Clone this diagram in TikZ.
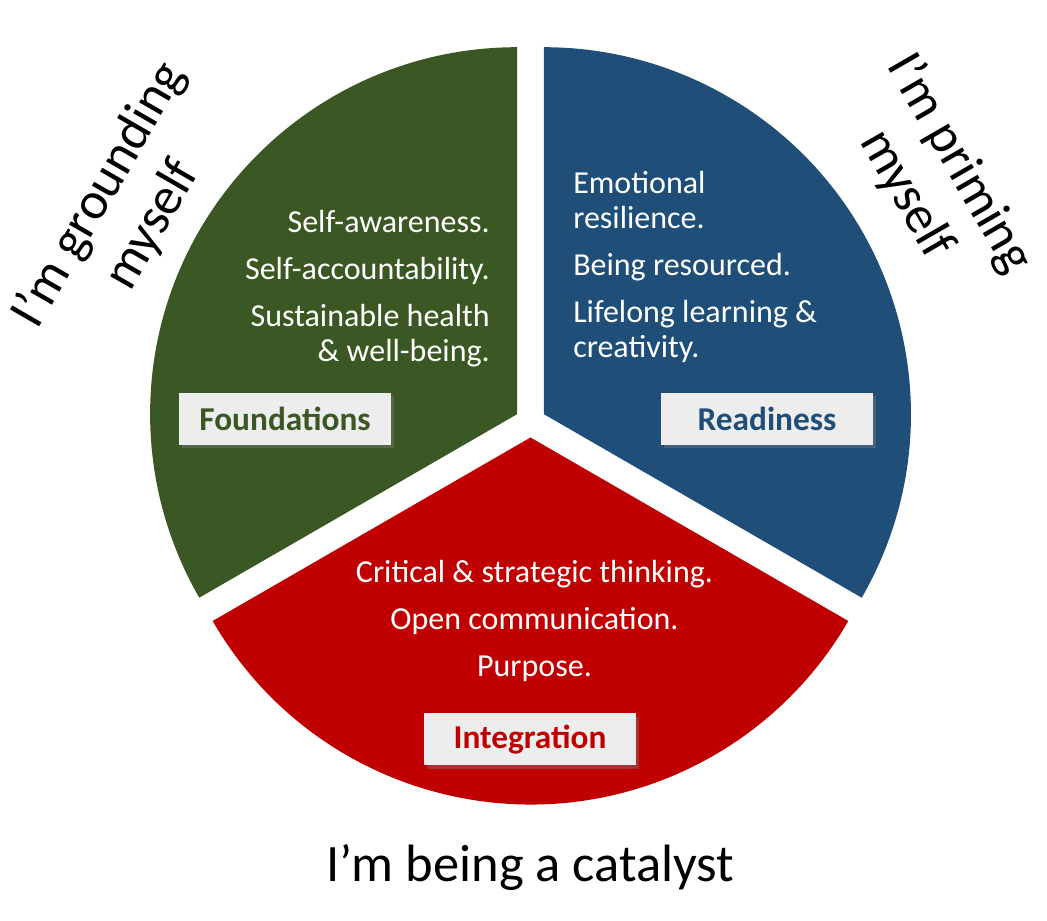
\documentclass[tikz,border=0pt]{standalone}
\usepackage{fontspec}
\setmainfont{Carlito}
\usepackage{tikz}
\usetikzlibrary{shadows,positioning}
\definecolor{groundgreen}{HTML}{3B5724}
\definecolor{primeblue}{HTML}{1F4E79}
\definecolor{catalystred}{HTML}{C00000}
\definecolor{tagfill}{HTML}{EDEDED}
\tikzset{
  tag/.style={fill=tagfill,minimum width=159pt,minimum height=39pt,inner sep=0pt,font=\fontsize{25pt}{30pt}\selectfont\bfseries,
    drop shadow={shadow xshift=2.5pt,shadow yshift=-2.5pt,opacity=0.4}},
  bodytext/.style={text=white,inner sep=0pt,font=\fontsize{24pt}{26.25pt}\selectfont},
  bigtext/.style={text=black,inner sep=0pt,align=center,font=\fontsize{39.4pt}{46pt}\selectfont}
}

\begin{document}
\begin{tikzpicture}[x=0.75pt,y=0.75pt]
  \useasboundingbox (0,0) rectangle (1047,921);

  % apexes of the three pulled-apart sectors
  \coordinate (gapex) at (517.1,506.8);
  \coordinate (bapex) at (543.9,506.8);
  \coordinate (rapex) at (530.5,483.5);

  \fill[groundgreen] (gapex) -- ++(90:367) arc[start angle=90,end angle=210,radius=367] -- cycle;
  \fill[primeblue] (bapex) -- ++(-30:367) arc[start angle=-30,end angle=90,radius=367] -- cycle;
  \fill[catalystred] (rapex) -- ++(210:367) arc[start angle=210,end angle=330,radius=367] -- cycle;

  \node[bodytext,align=right,anchor=north east] (groundtxt) at (490,711)
    {Self-awareness.\\[9pt]Self-accountability.\\[9pt]Sustainable health\\\& well-being.};
  \node[bodytext,align=left,anchor=north west] (primetxt) at (573,750)
    {Emotional\\resilience.\\[9pt]Being resourced.\\[9pt]Lifelong learning \&\\creativity.};
  \node[bodytext,align=center,anchor=north] (catalysttxt) at (534.5,361)
    {Critical \& strategic thinking.\\[9pt]Open communication.\\[9pt]Purpose.};

  % Tags
  \node[tag,text=groundgreen] (foundations) at (285,502) {Foundations};
  \node[tag,text=primeblue] (readiness) at (767,502) {Readiness};
  \node[tag,text=catalystred] (integration) at (530,181.5) {Integration};

  \node[bigtext,rotate=60] (grounding) at (126,711) {I’m grounding\\myself};
  \node[bigtext,rotate=-60] (priming) at (933,742) {I’m priming\\myself};
  \node[bigtext,anchor=base] (catalyst) at (530.5,39) {I’m being a catalyst};
\end{tikzpicture}
\end{document}
